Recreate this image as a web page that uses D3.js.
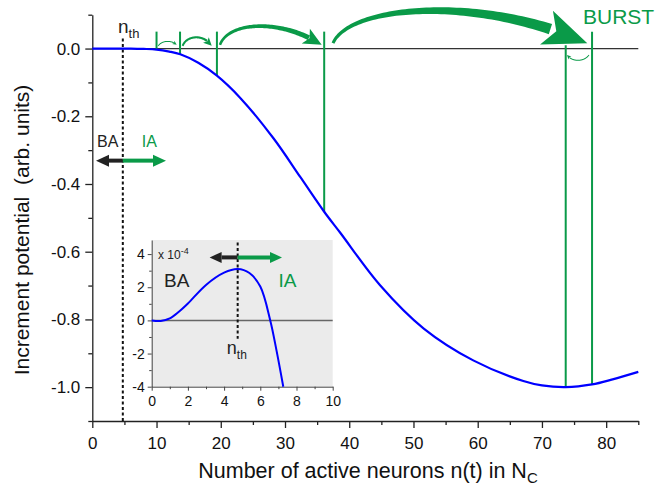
<!DOCTYPE html>
<html>
<head>
<meta charset="utf-8">
<script src="https://cdn.jsdelivr.net/npm/d3@7"></script>
<style>
body { margin: 0; background: #fff; }
text { font-family: "Liberation Sans", Arial, sans-serif; }
</style>
</head>
<body>
<div id="chart"></div>
<script>
// main curve: increment potential vs n
var potN = [0, 2, 4, 6, 8, 10, 12, 13.7, 16.5, 19.4, 23, 28.2, 32.4, 36.1, 38.6, 44.8, 51.6, 59.3, 67.1, 70, 73.7, 77.8, 81, 85];
var potV = [0, 0, 0, 0, -0.001, -0.003, -0.009, -0.017, -0.042, -0.080, -0.145, -0.265, -0.380, -0.482, -0.544, -0.699, -0.827, -0.921, -0.982, -0.995, -1.0, -0.992, -0.977, -0.955];

var xTicks = [0, 10, 20, 30, 40, 50, 60, 70, 80];
var xMinor = [5, 15, 25, 35, 45, 55, 65, 75, 85];
var yTicks = [0, -0.2, -0.4, -0.6, -0.8, -1.0];
var yMinor = [0.1, -0.1, -0.3, -0.5, -0.7, -0.9, -1.1];

// inset (units of 1e-4)
var inN = [0, 0.5, 1, 1.5, 2, 3, 4, 4.75, 5.4, 6, 6.55, 6.9, 7.27];
var inV = [0, -0.03, 0.12, 0.52, 1.02, 2.14, 2.88, 3.1, 2.86, 2.04, 0, -1.84, -4.0];
var inXTicks = [0, 2, 4, 6, 8, 10];
var inXMinor = [1, 3, 5, 7, 9];
var inYTicks = [-4, -2, 0, 2, 4];
var inYMinor = [-3, -1, 1, 3];

var nTh = 4.75;

// avalanche steps (green verticals)
var jumpN = [10, 13.66, 19.4, 36.1, 73.7, 77.8];
var jumpTop = [0.05, 0.05, 0.05, 0.05, 0.01, 0.05];
var jumpV = [-0.003, -0.017, -0.080, -0.482, -1.0, -0.992];

var green = "#0a9a48";
var W = 663, H = 491;

var svg = d3.select("#chart").append("svg")
    .attr("width", W).attr("height", H);

var x = d3.scaleLinear().domain([0, 85]).range([92.3, 638.3]);
var y = d3.scaleLinear().domain([-1.1, 0.1]).range([421, 14.7]);

// axes
var fmt = function(d) { return d.toFixed(1); };
var yAxis = svg.append("g").attr("transform", "translate(" + x(0) + ",0)")
    .call(d3.axisLeft(y).tickValues(yTicks).tickFormat(fmt).tickSize(7).tickSizeOuter(0).tickPadding(5));
svg.append("g").attr("transform", "translate(" + x(0) + ",0)")
    .call(d3.axisLeft(y).tickValues(yMinor).tickFormat("").tickSize(4).tickSizeOuter(0))
    .select(".domain").remove();
var xAxis = svg.append("g").attr("transform", "translate(0," + y(-1.1) + ")")
    .call(d3.axisBottom(x).tickValues(xTicks).tickSize(7).tickSizeOuter(0).tickPadding(9));
svg.append("g").attr("transform", "translate(0," + y(-1.1) + ")")
    .call(d3.axisBottom(x).tickValues(xMinor).tickFormat("").tickSize(4).tickSizeOuter(0))
    .select(".domain").remove();
svg.selectAll(".domain, .tick line").attr("stroke", "#222").attr("stroke-width", 1.3);
yAxis.selectAll("text").attr("font-size", 17).attr("fill", "#111");
xAxis.selectAll("text").attr("font-size", 17).attr("fill", "#111");

// axis titles
var xt = svg.append("text").attr("x", 368).attr("y", 478).attr("text-anchor", "middle")
    .attr("font-size", 21.5).attr("fill", "#111");
xt.append("tspan").text("Number of active neurons n(t) in N");
xt.append("tspan").attr("font-size", 15).attr("dy", 5).text("C");

svg.append("text").attr("transform", "translate(29,230) rotate(-90)")
    .attr("text-anchor", "middle").attr("font-size", 21).attr("fill", "#111")
    .attr("xml:space", "preserve")
    .text("Increment potential  (arb. units)");

// zero line
svg.append("line").attr("x1", x(0)).attr("x2", x(85)).attr("y1", y(0)).attr("y2", y(0))
    .attr("stroke", "#333").attr("stroke-width", 1.2);

// threshold dotted line
svg.append("line").attr("x1", x(nTh)).attr("x2", x(nTh)).attr("y1", y(0.03)).attr("y2", y(-1.1))
    .attr("stroke", "#111").attr("stroke-width", 2).attr("stroke-dasharray", "3,2.5");

var nt = svg.append("text").attr("x", x(4.0)).attr("y", y(0.046)).attr("font-size", 19).attr("fill", "#222");
nt.append("tspan").text("n");
nt.append("tspan").attr("font-size", 13).attr("dy", 5).text("th");

// BA / IA double arrow
function dblArrow(g, sx, sy, cx, left, right, cy, lw, hl, hw) {
    var yy = sy(cy);
    g.append("line").attr("x1", sx(cx)).attr("x2", sx(left) + hl).attr("y1", yy).attr("y2", yy)
        .attr("stroke", "#222").attr("stroke-width", lw);
    g.append("path").attr("fill", "#222")
        .attr("d", "M" + sx(left) + "," + yy + "L" + (sx(left) + hl) + "," + (yy - hw / 2) + "L" + (sx(left) + hl) + "," + (yy + hw / 2) + "Z");
    g.append("line").attr("x1", sx(cx)).attr("x2", sx(right) - hl).attr("y1", yy).attr("y2", yy)
        .attr("stroke", green).attr("stroke-width", lw);
    g.append("path").attr("fill", green)
        .attr("d", "M" + sx(right) + "," + yy + "L" + (sx(right) - hl) + "," + (yy - hw / 2) + "L" + (sx(right) - hl) + "," + (yy + hw / 2) + "Z");
}
dblArrow(svg, x, y, nTh, 0.58, 11.47, -0.331, 4, 13, 12);
svg.append("text").attr("x", x(0.75)).attr("y", y(-0.29)).attr("font-size", 16).attr("fill", "#222").text("BA");
svg.append("text").attr("x", x(7.69)).attr("y", y(-0.29)).attr("font-size", 16).attr("fill", green).text("IA");

// green step lines
svg.append("g").selectAll("line").data(jumpN).join("line")
    .attr("x1", d => x(d)).attr("x2", d => x(d))
    .attr("y1", (d, i) => y(jumpTop[i])).attr("y2", (d, i) => y(jumpV[i]))
    .attr("stroke", green).attr("stroke-width", 2);

// main curve
var line = d3.line().x(d => x(d[0])).y(d => y(d[1])).curve(d3.curveCatmullRom.alpha(0.5));
svg.append("path").datum(d3.zip(potN, potV)).attr("d", line)
    .attr("fill", "none").attr("stroke", "#0000ff").attr("stroke-width", 2.2);

// curved arrows (control points in data units)
function bez(p, t) {
    var u = 1 - t;
    return [u*u*u*p[0][0] + 3*u*u*t*p[1][0] + 3*u*t*t*p[2][0] + t*t*t*p[3][0],
            u*u*u*p[0][1] + 3*u*u*t*p[1][1] + 3*u*t*t*p[2][1] + t*t*t*p[3][1]];
}
function curvedArrow(pts, w0, w1, hl, hw) {
    var p = pts.map(d => [x(d[0]), y(d[1])]);
    var N = 80, s = [], L = [0];
    for (var i = 0; i <= N; i++) s.push(bez(p, i / N));
    for (var i = 1; i <= N; i++) L.push(L[i - 1] + Math.hypot(s[i][0] - s[i - 1][0], s[i][1] - s[i - 1][1]));
    var total = L[N], stop = total - hl * 0.85;
    var left = [], right = [];
    for (var i = 0; i <= N && L[i] <= stop; i++) {
        var a = s[Math.max(i - 1, 0)], b = s[Math.min(i + 1, N)];
        var dx = b[0] - a[0], dy = b[1] - a[1], len = Math.hypot(dx, dy);
        var nx = -dy / len, ny = dx / len, w = (w0 + (w1 - w0) * L[i] / total) / 2;
        left.push([s[i][0] + nx * w, s[i][1] + ny * w]);
        right.push([s[i][0] - nx * w, s[i][1] - ny * w]);
    }
    svg.append("path").attr("fill", green)
        .attr("d", "M" + left.concat(right.reverse()).map(d => d.join(",")).join("L") + "Z");
    // head
    var tip = s[N], k = 0;
    while (k < N && total - L[k] > hl) k++;
    var base = s[k], dx = tip[0] - base[0], dy = tip[1] - base[1], len = Math.hypot(dx, dy);
    var ux = dx / len, uy = dy / len, nx = -uy, ny = ux;
    var notch = [base[0] + ux * hl * 0.15, base[1] + uy * hl * 0.15];
    svg.append("path").attr("fill", green)
        .attr("d", "M" + tip.join(",") +
            "L" + (base[0] + nx * hw / 2 - ux * hl * 0.1) + "," + (base[1] + ny * hw / 2 - uy * hl * 0.1) +
            "L" + notch.join(",") +
            "L" + (base[0] - nx * hw / 2 - ux * hl * 0.1) + "," + (base[1] - ny * hw / 2 - uy * hl * 0.1) + "Z");
}
curvedArrow([[10.27, 0.008], [10.85, 0.025], [12.41, 0.025], [13.14, 0.011]], 1, 1, 4, 4);
curvedArrow([[14.07, 0.008], [14.59, 0.037], [17.23, 0.046], [18.59, 0.008]], 2, 2.2, 8, 8);
curvedArrow([[19.88, 0.011], [21.13, 0.079], [29.22, 0.090], [35.71, 0.011]], 2.5, 5.5, 17, 17);
curvedArrow([[37.47, 0.016], [40.12, 0.129], [60.36, 0.158], [77.06, 0.016]], 3, 12, 42, 36);
curvedArrow([[77.32, -0.019], [76.54, -0.040], [74.67, -0.040], [73.9, -0.019]], 1, 1, 4, 4);

svg.append("text").attr("x", 583).attr("y", 24).attr("font-size", 21).attr("fill", green).text("BURST");

// ---------- inset ----------
var ix = d3.scaleLinear().domain([0, 10]).range([151.7, 332.7]);
var iy = d3.scaleLinear().domain([-4, 4.85]).range([386.7, 240]);
var inset = svg.append("g");
inset.append("rect").attr("x", ix(0)).attr("y", iy(4.85)).attr("width", ix(10) - ix(0)).attr("height", iy(-4) - iy(4.85))
    .attr("fill", "#ebebeb");
var iya = inset.append("g").attr("transform", "translate(" + ix(0) + ",0)")
    .call(d3.axisLeft(iy).tickValues(inYTicks).tickSize(4).tickSizeOuter(0).tickPadding(3));
inset.append("g").attr("transform", "translate(" + ix(0) + ",0)")
    .call(d3.axisLeft(iy).tickValues(inYMinor).tickFormat("").tickSize(2.5).tickSizeOuter(0))
    .select(".domain").remove();
var ixa = inset.append("g").attr("transform", "translate(0," + iy(-4) + ")")
    .call(d3.axisBottom(ix).tickValues(inXTicks).tickSize(4).tickSizeOuter(0).tickPadding(5));
inset.append("g").attr("transform", "translate(0," + iy(-4) + ")")
    .call(d3.axisBottom(ix).tickValues(inXMinor).tickFormat("").tickSize(2.5).tickSizeOuter(0))
    .select(".domain").remove();
inset.selectAll(".domain, .tick line").attr("stroke", "#444").attr("stroke-width", 1);
iya.selectAll("text").attr("font-size", 14).attr("fill", "#111").text(d => String(d));
ixa.selectAll("text").attr("font-size", 14).attr("fill", "#111");

inset.append("line").attr("x1", ix(0)).attr("x2", ix(10)).attr("y1", iy(0)).attr("y2", iy(0))
    .attr("stroke", "#666").attr("stroke-width", 1.5);
inset.append("line").attr("x1", ix(nTh)).attr("x2", ix(nTh)).attr("y1", iy(4.7)).attr("y2", iy(-1.1))
    .attr("stroke", "#111").attr("stroke-width", 2).attr("stroke-dasharray", "3,2.5");
inset.append("path").datum(d3.zip(inN, inV)).attr("d", d3.line().x(d => ix(d[0])).y(d => iy(d[1])).curve(d3.curveCatmullRom.alpha(0.5)))
    .attr("fill", "none").attr("stroke", "#0000ff").attr("stroke-width", 2);

dblArrow(inset, ix, iy, nTh, 3.2, 7.2, 3.8, 4, 12, 11);

var sc = inset.append("text").attr("x", 158).attr("y", 259).attr("font-size", 12).attr("fill", "#222");
sc.append("tspan").text("x 10");
sc.append("tspan").attr("font-size", 9).attr("dy", -5).text("-4");
inset.append("text").attr("x", ix(0.68)).attr("y", iy(2.0)).attr("font-size", 19).attr("fill", "#222").text("BA");
inset.append("text").attr("x", ix(7)).attr("y", iy(2.0)).attr("font-size", 19).attr("fill", green).text("IA");
var nt2 = inset.append("text").attr("x", ix(4.15)).attr("y", iy(-2.0)).attr("font-size", 18).attr("fill", "#222");
nt2.append("tspan").text("n");
nt2.append("tspan").attr("font-size", 12).attr("dy", 5).text("th");
</script>
</body>
</html>
